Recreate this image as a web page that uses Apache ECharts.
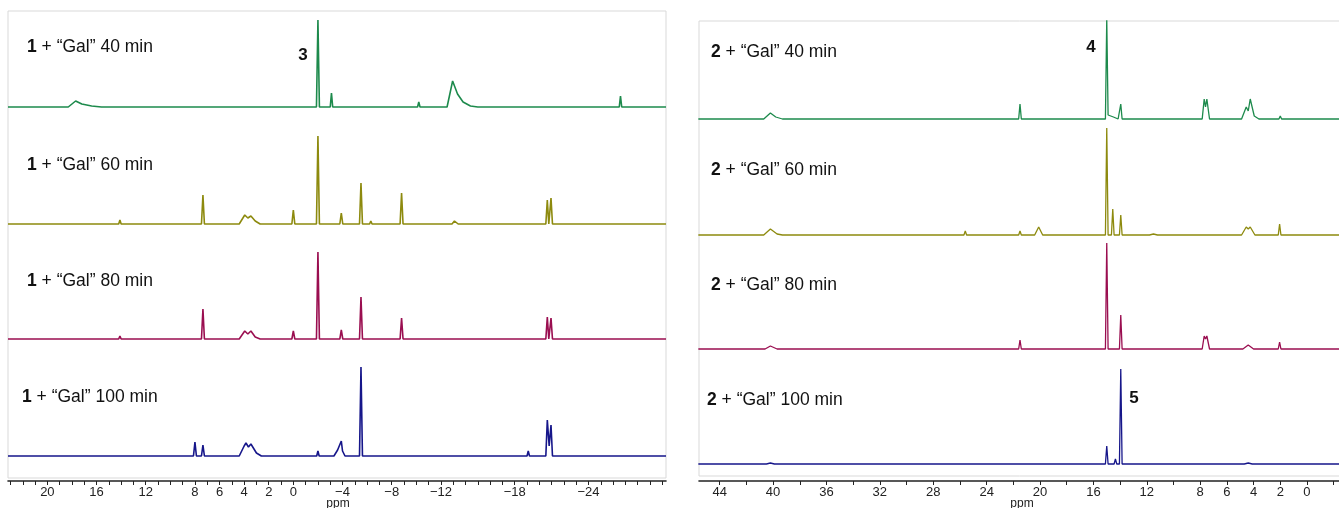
<!DOCTYPE html>
<html>
<head>
<meta charset="utf-8">
<script src="https://cdn.jsdelivr.net/npm/echarts@6/dist/echarts.min.js"></script>
<style>
  html, body { margin: 0; padding: 0; background: #fff; }
  #main { width: 1339px; height: 508px; }
</style>
</head>
<body>
<div id="main"></div>
<script>
// spectra as [ppm, intensity] points
var s1_40 = [
  [23.2,0],[18.3,0],[17.7,6],[17.2,3],[16.4,1],[15.6,0],
  [-1.88,0],[-2.0,87],[-2.12,0],
  [-3.0,0],[-3.1,14],[-3.2,0],
  [-10.1,0],[-10.2,5],[-10.3,0],
  [-12.5,0],[-12.95,26],[-13.35,13],[-13.8,5],[-14.4,1],[-15.0,0],
  [-26.5,0],[-26.6,11],[-26.7,0],
  [-30.3,0]
];
var s1_60 = [
  [23.2,0],[14.2,0],[14.1,4],[14.0,0],
  [7.47,0],[7.35,29],[7.23,0],
  [4.4,0],[3.95,9],[3.7,6],[3.45,8],[3.1,3],[2.7,0],
  [0.12,0],[0.0,14],[-0.12,0],
  [-1.88,0],[-2.0,88],[-2.12,0],
  [-3.78,0],[-3.9,11],[-4.02,0],
  [-5.38,0],[-5.5,41],[-5.62,0],
  [-6.2,0],[-6.3,3],[-6.4,0],
  [-8.68,0],[-8.8,31],[-8.92,0],
  [-12.9,0],[-13.1,3],[-13.4,0],
  [-20.53,0],[-20.65,24],[-20.77,0],[-20.83,0],[-20.95,26],[-21.07,0],
  [-30.3,0]
];
var s1_80 = [
  [23.2,0],[14.2,0],[14.1,3],[14.0,0],
  [7.47,0],[7.35,30],[7.23,0],
  [4.4,0],[3.95,8],[3.7,5],[3.45,8],[3.1,2],[2.7,0],
  [0.12,0],[0.0,8],[-0.12,0],
  [-1.88,0],[-2.0,87],[-2.12,0],
  [-3.78,0],[-3.9,9],[-4.02,0],
  [-5.38,0],[-5.5,42],[-5.62,0],
  [-8.68,0],[-8.8,21],[-8.92,0],
  [-20.53,0],[-20.65,22],[-20.77,0],[-20.83,0],[-20.95,21],[-21.07,0],
  [-30.3,0]
];
var s1_100 = [
  [23.2,0],[8.12,0],[8.0,14],[7.88,0],
  [7.47,0],[7.35,11],[7.23,0],
  [4.4,0],[4.0,10],[3.85,13],[3.65,9],[3.45,12],[3.0,3],[2.6,0],
  [-1.9,0],[-2.0,5],[-2.1,0],
  [-3.3,0],[-3.6,6],[-3.75,4],[-3.9,15],[-4.0,5],[-4.2,0],
  [-5.38,0],[-5.5,89],[-5.62,0],
  [-19.0,0],[-19.1,5],[-19.2,0],
  [-20.53,0],[-20.65,36],[-20.8,10],[-20.95,31],[-21.07,0],
  [-30.3,0]
];

var s2_40 = [
  [45.6,0],[40.7,0],[40.2,6],[39.8,2],[39.3,0],
  [21.6,0],[21.5,15],[21.4,0],
  [15.1,0],[15.0,100],[14.9,4],[14.5,2],[14.15,0],
  [14.05,0],[13.95,15],[13.85,0],
  [7.85,0],[7.7,20],[7.6,12],[7.5,20],[7.3,0],
  [4.9,0],[4.55,12],[4.4,8],[4.25,20],[3.95,3],[3.6,0],
  [2.1,0],[2.0,3],[1.9,0],
  [-2.6,0]
];
var s2_60 = [
  [45.6,0],[40.7,0],[40.2,6],[39.7,1],[39.3,0],
  [25.7,0],[25.6,4],[25.5,0],
  [21.6,0],[21.5,4],[21.4,0],
  [20.4,0],[20.1,8],[19.8,0],
  [15.1,0],[15.0,107],[14.9,0],[14.65,0],[14.55,26],[14.45,0],
  [14.05,0],[13.95,20],[13.85,0],
  [13.5,0],[13.4,2],[13.3,0],
  [11.8,0],[11.5,1],[11.2,0],
  [4.9,0],[4.55,8],[4.4,6],[4.25,8],[3.9,0],
  [2.15,0],[2.05,11],[1.95,0],
  [-2.6,0]
];
var s2_80 = [
  [45.6,0],[40.6,0],[40.2,3],[39.7,0],
  [21.6,0],[21.5,9],[21.4,0],
  [15.1,0],[15.0,106],[14.9,0],[14.75,0],[14.65,2],[14.55,0],
  [14.05,0],[13.95,34],[13.85,0],
  [7.85,0],[7.7,13],[7.6,10],[7.5,13],[7.3,0],
  [4.8,0],[4.4,4],[4.0,0],
  [2.15,0],[2.05,7],[1.95,0],
  [-2.6,0]
];
var s2_100 = [
  [45.6,0],[40.5,0],[40.2,1],[39.9,0],
  [21.6,0],[21.5,1],[21.4,0],
  [15.1,0],[15.0,18],[14.9,0],
  [14.45,0],[14.35,5],[14.25,0],
  [14.05,0],[13.95,95],[13.85,0],
  [4.7,0],[4.4,1],[4.1,0],
  [-2.6,0]
];

var leftTickLabels = [20, 16, 12, 8, 6, 4, 2, 0, -4, -8, -12, -18, -24];
var rightTickLabels = [44, 40, 36, 32, 28, 24, 20, 16, 12, 8, 6, 4, 2, 0];
var times = ['40 min', '60 min', '80 min', '100 min'];
var compounds = ['1', '2'];
var productLabels = ['3', '4', '5'];
var unit = 'ppm';

var colors = ['#1d8a4c', '#8d8a0e', '#9a0e50', '#16168a'];

var leftTicks = [];
for (var i = -30; i <= 23; i++) leftTicks.push(i);
var rightTicks = [];
for (var j = -2; j <= 45; j += 2) rightTicks.push(j);

// vertical stacking of the traces (in y-axis units of each grid)
var leftBase = [371, 254, 139, 22];
var rightBase = [357, 241, 127, 12];

function shift(arr, b) {
  return arr.map(function (p) { return [p[0], p[1] + b]; });
}
function fmt(v) {
  return String(v).replace('-', '\u2212');
}

var axisFont = 'Liberation Sans';
function makeX(grid, min, max, ticks, labels, offset) {
  return {
    gridIndex: grid, type: 'value', inverse: true, min: min, max: max, offset: offset,
    axisLine: { onZero: false, lineStyle: { color: '#222', width: 1.6 } },
    axisTick: { customValues: ticks, length: 4, lineStyle: { color: '#222' } },
    axisLabel: { customValues: labels, formatter: fmt, color: '#222', fontSize: 13,
                 fontFamily: axisFont, margin: 5 },
    splitLine: { show: false }
  };
}

var series = [];
var left = [s1_40, s1_60, s1_80, s1_100];
var right = [s2_40, s2_60, s2_80, s2_100];
left.forEach(function (s, k) {
  series.push({ type: 'line', xAxisIndex: 0, yAxisIndex: 0, data: shift(s, leftBase[k]),
    showSymbol: false, lineStyle: { color: colors[k], width: 1.6 }, clip: true });
});
right.forEach(function (s, k) {
  series.push({ type: 'line', xAxisIndex: 1, yAxisIndex: 1, data: shift(s, rightBase[k]),
    showSymbol: false, lineStyle: { color: colors[k], width: 1.3 }, clip: true });
});

var labelFont = 'Liberation Sans';
function traceLabel(x, y, c, t) {
  return {
    type: 'text', x: x, y: y,
    style: {
      text: '{b|' + c + '} + \u201cGal\u201d ' + t,
      rich: { b: { fontWeight: 'bold', fontSize: 17.5, fontFamily: labelFont, fill: '#111' } },
      fontSize: 17.5, fontFamily: labelFont, fill: '#111', verticalAlign: 'middle'
    }
  };
}
function peakLabel(x, y, t) {
  return {
    type: 'text', x: x, y: y,
    style: { text: t, fontSize: 17, fontWeight: 'bold', fontFamily: labelFont,
             fill: '#111', verticalAlign: 'middle', align: 'center' }
  };
}
function unitLabel(x) {
  return {
    type: 'text', x: x, y: 498,
    style: { text: unit, fontSize: 12, fontFamily: axisFont, fill: '#222',
             verticalAlign: 'top', align: 'center' }
  };
}

var leftY = [47, 165, 281, 397];
var rightY = [52, 170, 285, 400];
var graphics = [];
times.forEach(function (t, k) {
  graphics.push(traceLabel(k === 3 ? 22 : 27, leftY[k], compounds[0], t));
  graphics.push(traceLabel(k === 3 ? 707 : 711, rightY[k], compounds[1], t));
});
graphics.push(peakLabel(303, 55, productLabels[0]));
graphics.push(peakLabel(1091, 47, productLabels[1]));
graphics.push(peakLabel(1134, 398, productLabels[2]));
graphics.push(unitLabel(338));
graphics.push(unitLabel(1022));

var chart = echarts.init(document.getElementById('main'));
chart.setOption({
  animation: false,
  grid: [
    { left: 8, right: 673, top: 11, bottom: 30, show: true, borderColor: '#d9d9d9', borderWidth: 1,
      outerBoundsMode: 'none' },
    { left: 699, right: -2, top: 21, bottom: 32, show: true, borderColor: '#d9d9d9', borderWidth: 1,
      outerBoundsMode: 'none' }
  ],
  xAxis: [
    makeX(0, -30.3, 23.2, leftTicks, leftTickLabels, 3),
    makeX(1, -2.55, 45.55, rightTicks, rightTickLabels, 5)
  ],
  yAxis: [
    { gridIndex: 0, type: 'value', min: 0, max: 467, show: false },
    { gridIndex: 1, type: 'value', min: 0, max: 455, show: false }
  ],
  graphic: graphics,
  series: series
});
</script>
</body>
</html>
